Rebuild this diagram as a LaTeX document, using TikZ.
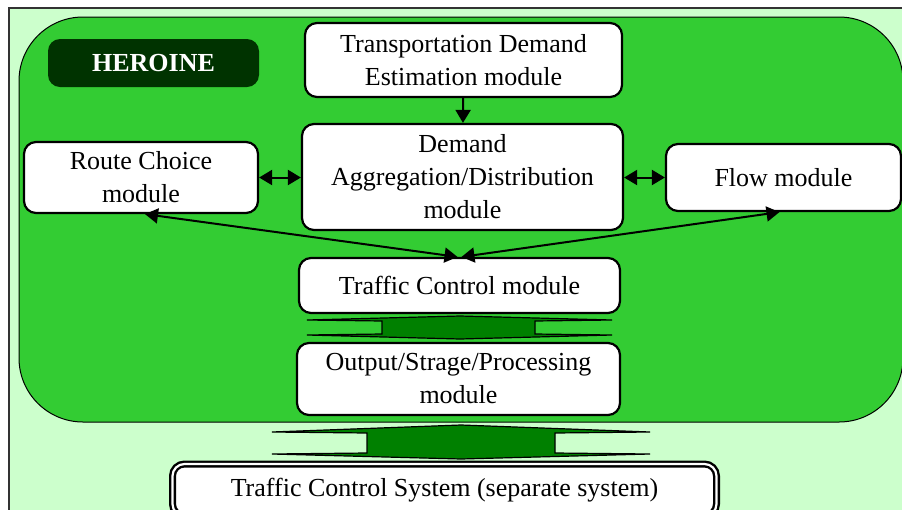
\documentclass[tikz,border=0pt]{standalone}
\usepackage{fontspec}
\setmainfont{Liberation Serif}
\usetikzlibrary{arrows.meta, positioning}
\definecolor{paleGreen}{HTML}{CCFFCC}
\definecolor{heroGreen}{HTML}{33CC33}
\definecolor{darkGreen}{HTML}{003300}
\definecolor{arrowGreen}{HTML}{008000}
\tikzset{%
  >={Triangle[width=7.5pt,length=6.5pt]},
  % Specifications for style of nodes:
    base/.style = {rectangle, rounded corners=6pt, draw=black, line width=1.1pt, fill=white,
                   align=center, inner sep=2pt, font=\fontsize{13}{16.5}\selectfont},
    module/.style = {base},
    heroineTag/.style = {base, draw=none, fill=darkGreen, text=white,
                   font=\fontsize{13}{16.5}\selectfont\bfseries},
    extSystem/.style = {base, double=white, double distance=1.1pt, line width=1.2pt},
    fatArrow/.style = {draw=black, line width=0.6pt, fill=arrowGreen, line join=miter},
    link/.style = {line width=1pt},
}
\begin{document}
\begin{tikzpicture}[x=0.5pt, y=-0.5pt]
  \useasboundingbox (0,0) rectangle (902,510);
  % Background panels
  \draw[fill=paleGreen, draw=black!80, line width=0.8pt] (9,8) rectangle (915,525);
  \draw[fill=heroGreen, draw=black, line width=0.5pt, rounded corners=32pt] (19,17) rectangle (903,422);

  \node (heroineLabel)      [heroineTag, minimum width=105.5pt, minimum height=24pt] at (153.5,63) {HEROINE};
  \node (demandEstimation)  [module, minimum width=158.5pt, minimum height=37pt] at (463.5,60)
                                   {Transportation Demand\\Estimation module};
  \node (demandAggregation) [module, minimum width=160.5pt, minimum height=53pt] at (462.5,177)
                                   {Demand\\Aggregation/Distribution\\module};
  \node (routeChoice)       [module, minimum width=117pt, minimum height=35.5pt] at (141,177.5)
                                   {Route Choice\\module};
  \node (flowModule)        [module, minimum width=117.5pt, minimum height=33.5pt] at (783.5,177.5)
                                   {Flow module};
  \node (trafficControl)    [module, minimum width=160.5pt, minimum height=27.5pt] at (459.5,285.5)
                                   {Traffic Control module};
  \node (outputModule)      [module, minimum width=161.5pt, minimum height=36pt] at (458.5,379)
                                   {Output/Strage/Processing\\module};
  \node (controlSystem)     [extSystem, minimum width=272pt, minimum height=26pt] at (444.5,490)
                                   {Traffic Control System (separate system)};

  % Specification of lines between nodes
  \draw[link, ->]     (demandEstimation) -- (demandAggregation);
  \draw[link, <->]    (routeChoice.east) -- (demandAggregation.west |- routeChoice.east);
  \draw[link, <->]    (demandAggregation.east |- flowModule.west) -- (flowModule.west);
  \draw[link, <->]    ([xshift=2pt]routeChoice.south) -- ([xshift=-1pt]trafficControl.north);
  \draw[link, <->]    ([xshift=-2pt]flowModule.south) -- ([xshift=1pt]trafficControl.north);

  % Block arrows
  \draw[fatArrow] (460,316) -- (612,320) -- (535,321) -- (535,334) -- (612,335) -- (460,339)
                  -- (307,335) -- (382,334) -- (382,321) -- (307,320) -- cycle;
  \draw[fatArrow] (461,425) -- (650,432) -- (555,433) -- (555,453) -- (650,454) -- (461,459)
                  -- (272,454) -- (367,453) -- (367,433) -- (272,432) -- cycle;
\end{tikzpicture}
\end{document}
